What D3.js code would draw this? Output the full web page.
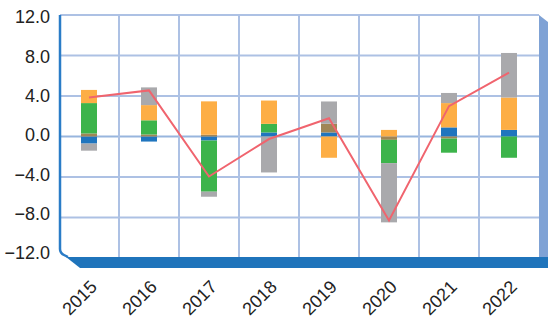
<!DOCTYPE html>
<html>
<head>
<meta charset="utf-8">
<script src="https://cdn.jsdelivr.net/npm/d3@7/dist/d3.min.js"></script>
<style>
  html, body { margin: 0; padding: 0; background: #fff; }
  svg { display: block; }
  text { font-family: "Liberation Sans", Arial, sans-serif; fill: #222; }
</style>
</head>
<body>
<svg id="chart" width="548" height="320"></svg>
<script>
// Categories and series (percentage-point contributions)
const years = ["2015", "2016", "2017", "2018", "2019", "2020", "2021", "2022"];
const blueVals   = [-0.7, -0.5, -0.4,  0.4,  0.4,  0.0,  0.9,  0.65];
const brownVals  = [ 0.3,  0.2,  0.17, 0.0,  0.86, -0.33, -0.2, 0.0];
const greenVals  = [ 3.0,  1.4, -5.05, 0.85, 0.0, -2.3, -1.4, -2.1];
const orangeVals = [ 1.3,  1.5,  3.3,  2.3, -2.1,  0.65, 2.4,  3.2];
const grayVals   = [-0.7,  1.75, -0.5, -3.55, 2.2, -5.85, 1.0, 4.4];
const lineVals   = [ 3.85, 4.55, -3.95, -0.25, 1.8, -8.3, 3.0, 6.3];
const yTicks     = [-12, -8, -4, 0, 4, 8, 12];

const seriesKeys   = ["blue", "brown", "green", "orange", "gray"];
const seriesColors = {
  blue: "#1f75be", brown: "#a08656", green: "#3cb44b",
  orange: "#fdae45", gray: "#a9a9ac"
};

const rows = years.map((yr, i) => ({
  year: yr,
  blue: blueVals[i], brown: brownVals[i], green: greenVals[i],
  orange: orangeVals[i], gray: grayVals[i]
}));

const svg = d3.select("#chart");
const plotL = 60, plotR = 539, plotT = 15, plotB = 258;

const x = d3.scaleBand().domain(years).range([plotL - 1, plotR]).padding(0);
const y = d3.scaleLinear().domain([-12, 12]).range([plotB, plotT]);
// Labels sit on the front edge, slightly tighter than the back-wall grid
const yLabel = d3.scaleLinear().domain([-12, 12]).range([253, 17]);

// Right side wall
svg.append("path")
  .attr("d", `M${plotR},${plotT} L548,22 L548,266 L${plotR},257 Z`)
  .attr("fill", "#7fa2d5");

// Horizontal gridlines
svg.append("g")
  .selectAll("line")
  .data(yTicks.filter(t => t > -12))
  .join("line")
  .attr("x1", plotL).attr("x2", plotR)
  .attr("y1", d => y(d)).attr("y2", d => y(d))
  .attr("stroke", d => d === 0 ? "#98b5de" : "#adc1e4")
  .attr("stroke-width", 2);

// Vertical gridlines at category boundaries
svg.append("g")
  .selectAll("line")
  .data(years.slice(1))
  .join("line")
  .attr("x1", d => x(d)).attr("x2", d => x(d))
  .attr("y1", plotT).attr("y2", plotB)
  .attr("stroke", "#adc1e4")
  .attr("stroke-width", 2);

// Floor band and left axis
svg.append("path")
  .attr("d", `M66,257 L548,257 L548,268 L80,268 Z`)
  .attr("fill", "#1f74bb");
svg.append("path")
  .attr("d", `M${plotL},${plotT} L${plotL},249 Q${plotL},253 64,255 L68,257`)
  .attr("fill", "none")
  .attr("stroke", "#2a7cc7")
  .attr("stroke-width", 2.5);

// Stacked columns
const stacked = d3.stack().keys(seriesKeys).offset(d3.stackOffsetDiverging)(rows);
const barW = 16;
svg.append("g")
  .selectAll("g")
  .data(stacked)
  .join("g")
  .attr("fill", d => seriesColors[d.key])
  .selectAll("rect")
  .data(d => d)
  .join("rect")
  .attr("x", d => x(d.data.year) + x.bandwidth() / 2 - barW / 2)
  .attr("y", d => y(Math.max(d[0], d[1])))
  .attr("width", barW)
  .attr("height", d => Math.abs(y(d[0]) - y(d[1])));

// Line series
const line = d3.line()
  .x((d, i) => x(years[i]) + x.bandwidth() / 2)
  .y(d => y(d));
svg.append("path")
  .datum(lineVals)
  .attr("d", line)
  .attr("fill", "none")
  .attr("stroke", "#f0646e")
  .attr("stroke-width", 2);

// Y axis labels
svg.append("g")
  .selectAll("text")
  .data(yTicks)
  .join("text")
  .attr("x", 50)
  .attr("y", d => yLabel(d))
  .attr("dy", "0.35em")
  .attr("text-anchor", "end")
  .style("font-size", "18px")
  .text(d => d3.format(".1f")(d));

// X axis labels, rotated
svg.append("g")
  .selectAll("text")
  .data(years)
  .join("text")
  .attr("transform", d => `translate(${x(d) + x.bandwidth() / 2 + 9},288) rotate(-45)`)
  .attr("text-anchor", "end")
  .style("font-size", "18px")
  .text(d => d);
</script>
</body>
</html>
